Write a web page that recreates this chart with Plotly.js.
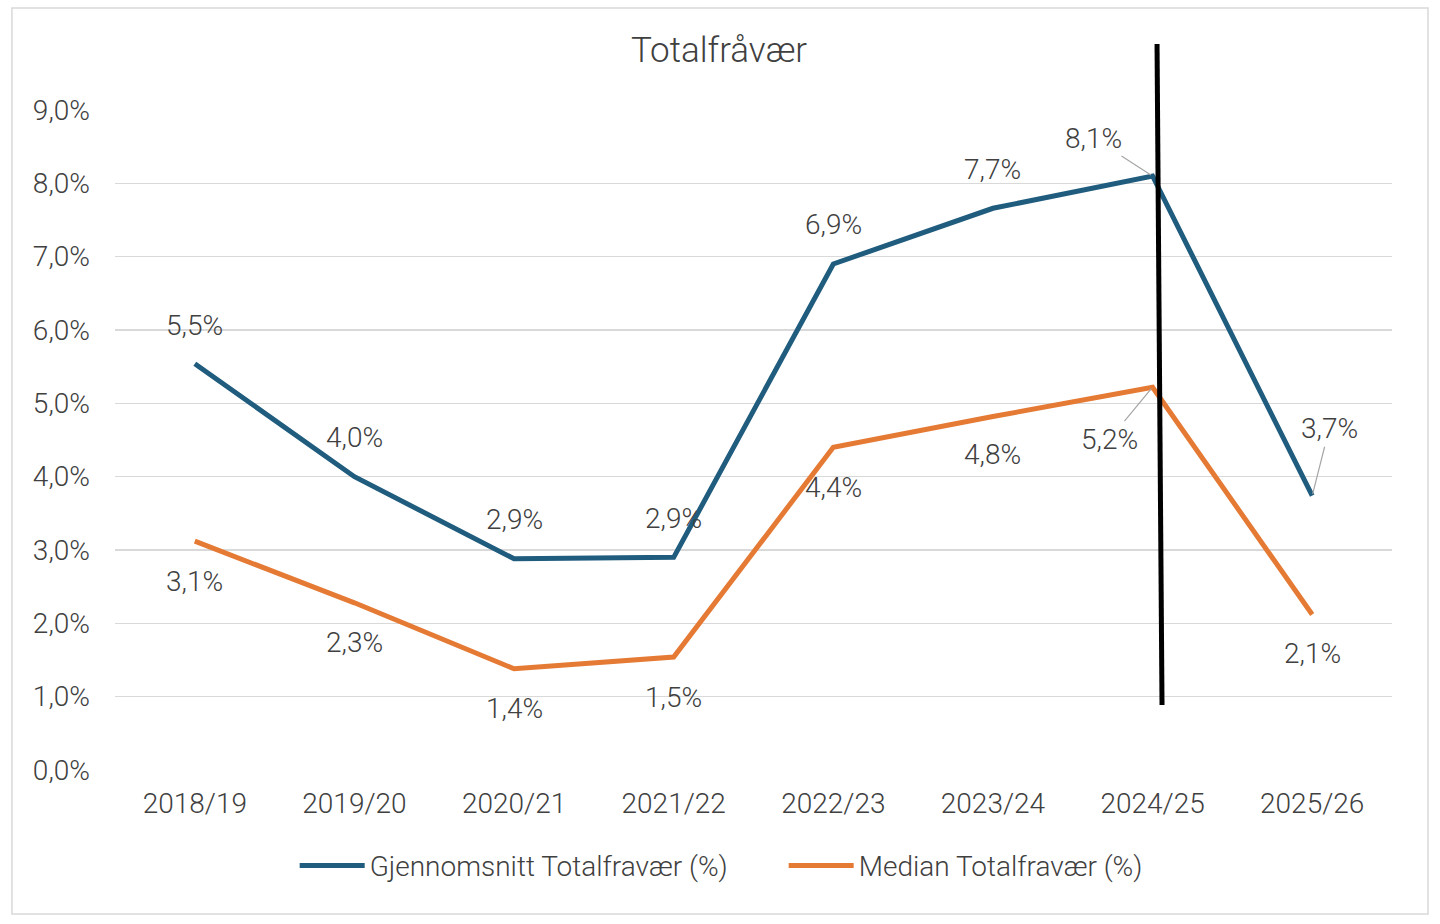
<!DOCTYPE html>
<html>
<head>
<meta charset="utf-8">
<script src="https://cdn.plot.ly/plotly-3.0.1.min.js"></script>
<style>html,body{margin:0;padding:0;background:#fff;}#chart{width:1440px;height:924px;}</style>
</head>
<body>
<div id="chart"></div>
<script>
const categories = ["2018/19","2019/20","2020/21","2021/22","2022/23","2023/24","2024/25","2025/26"];
const meanValues = [5.54, 4.0, 2.88, 2.9, 6.9, 7.66, 8.1, 3.74];
const medianValues = [3.12, 2.28, 1.38, 1.54, 4.4, 4.82, 5.22, 2.12];
const seriesNames = ["Gjennomsnitt Totalfravær (%)", "Median Totalfravær (%)"];
const yTicks = [0,1,2,3,4,5,6,7,8,9];

const FONT = "Roboto, 'Open Sans', sans-serif";
const TXT = "#404040";
const BLUE = "#1F5C7E";
const ORANGE = "#E57A35";
const FS = 28;
const FW = 300;

// label placement (pixel offsets from the point); arrow = leader line
const meanLabelPos = [
  {dx:0,dy:-38},{dx:0,dy:-39},{dx:0,dy:-39},{dx:0,dy:-39},
  {dx:0,dy:-40},{dx:0,dy:-39},{dx:-59,dy:-38,arrow:true},{dx:17,dy:-67,arrow:true}
];
const medianLabelPos = [
  {dx:0,dy:40},{dx:0,dy:40},{dx:0,dy:40},{dx:0,dy:40},
  {dx:0,dy:40},{dx:0,dy:38},{dx:-43,dy:52,arrow:true},{dx:0,dy:39}
];

function fmt(v){ return v.toFixed(1).replace('.', ',') + '%'; }

function labels(values, pos){
  return values.map((v,i)=>{
    const p = pos[i];
    const base = {x: categories[i], y: v, xref:'x', yref:'y', text: fmt(v),
      font:{family:FONT,size:FS,color:TXT,weight:FW}};
    if (p.arrow){
      return Object.assign(base,{showarrow:true, arrowhead:0, arrowwidth:1.2,
        arrowcolor:'#a6a6a6', ax:p.dx, ay:p.dy, standoff:2});
    }
    return Object.assign(base,{showarrow:false, xshift:p.dx, yshift:-p.dy});
  });
}

const traces = [
  {x: categories, y: meanValues, name: seriesNames[0], type:'scatter', mode:'lines',
   line:{color:BLUE, width:5}},
  {x: categories, y: medianValues, name: seriesNames[1], type:'scatter', mode:'lines',
   line:{color:ORANGE, width:5}}
];

const layout = {
  width:1440, height:924,
  margin:{l:115, r:48, t:110, b:154},
  paper_bgcolor:'#fff', plot_bgcolor:'#fff',
  font:{family:FONT, size:FS, color:TXT, weight:FW},
  title:{text:'Totalfråvær', x:0.4993, xref:'container', xanchor:'center', y:0.946, yanchor:'middle', yref:'container',
    font:{family:FONT, size:35, color:TXT, weight:FW}},
  showlegend:true,
  legend:{orientation:'h', x:0.1407, xanchor:'left', y:-0.145, yanchor:'middle',
    font:{family:FONT, size:FS, color:TXT, weight:FW}, itemwidth:65, entrywidth:409, entrywidthmode:'pixels',
    traceorder:'normal'},
  xaxis:{type:'category', range:[-0.5,7.5], showgrid:false, zeroline:false, showline:false,
    ticks:'', tickfont:{family:FONT,size:FS,color:TXT,weight:FW}, ticklabelstandoff:14, fixedrange:true},
  yaxis:{range:[0,9], tickmode:'array', tickvals:yTicks, ticktext:yTicks.map(fmt), showgrid:true,
    gridcolor:'#d9d9d9', gridwidth:1.5, zeroline:false, showline:false, ticks:'',
    tickfont:{family:FONT,size:FS,color:TXT,weight:FW}, ticklabelstandoff:24, fixedrange:true},
  annotations: labels(meanValues, meanLabelPos).concat(labels(medianValues, medianLabelPos)),
  shapes:[
    {type:'rect', xref:'paper', yref:'paper', x0:-0.0807, x1:1.0282, y0:-0.218, y1:1.1545,
     line:{color:'#d9d9d9', width:1.5}, fillcolor:'rgba(0,0,0,0)', layer:'below'},
    {type:'line', xref:'paper', yref:'paper', x0:0.816, x1:0.8199, y0:1.1, y1:0.0985,
     line:{color:'#000', width:5}}
  ]
};

Plotly.newPlot('chart', traces, layout, {displayModeBar:false, staticPlot:true});
</script>
</body>
</html>
